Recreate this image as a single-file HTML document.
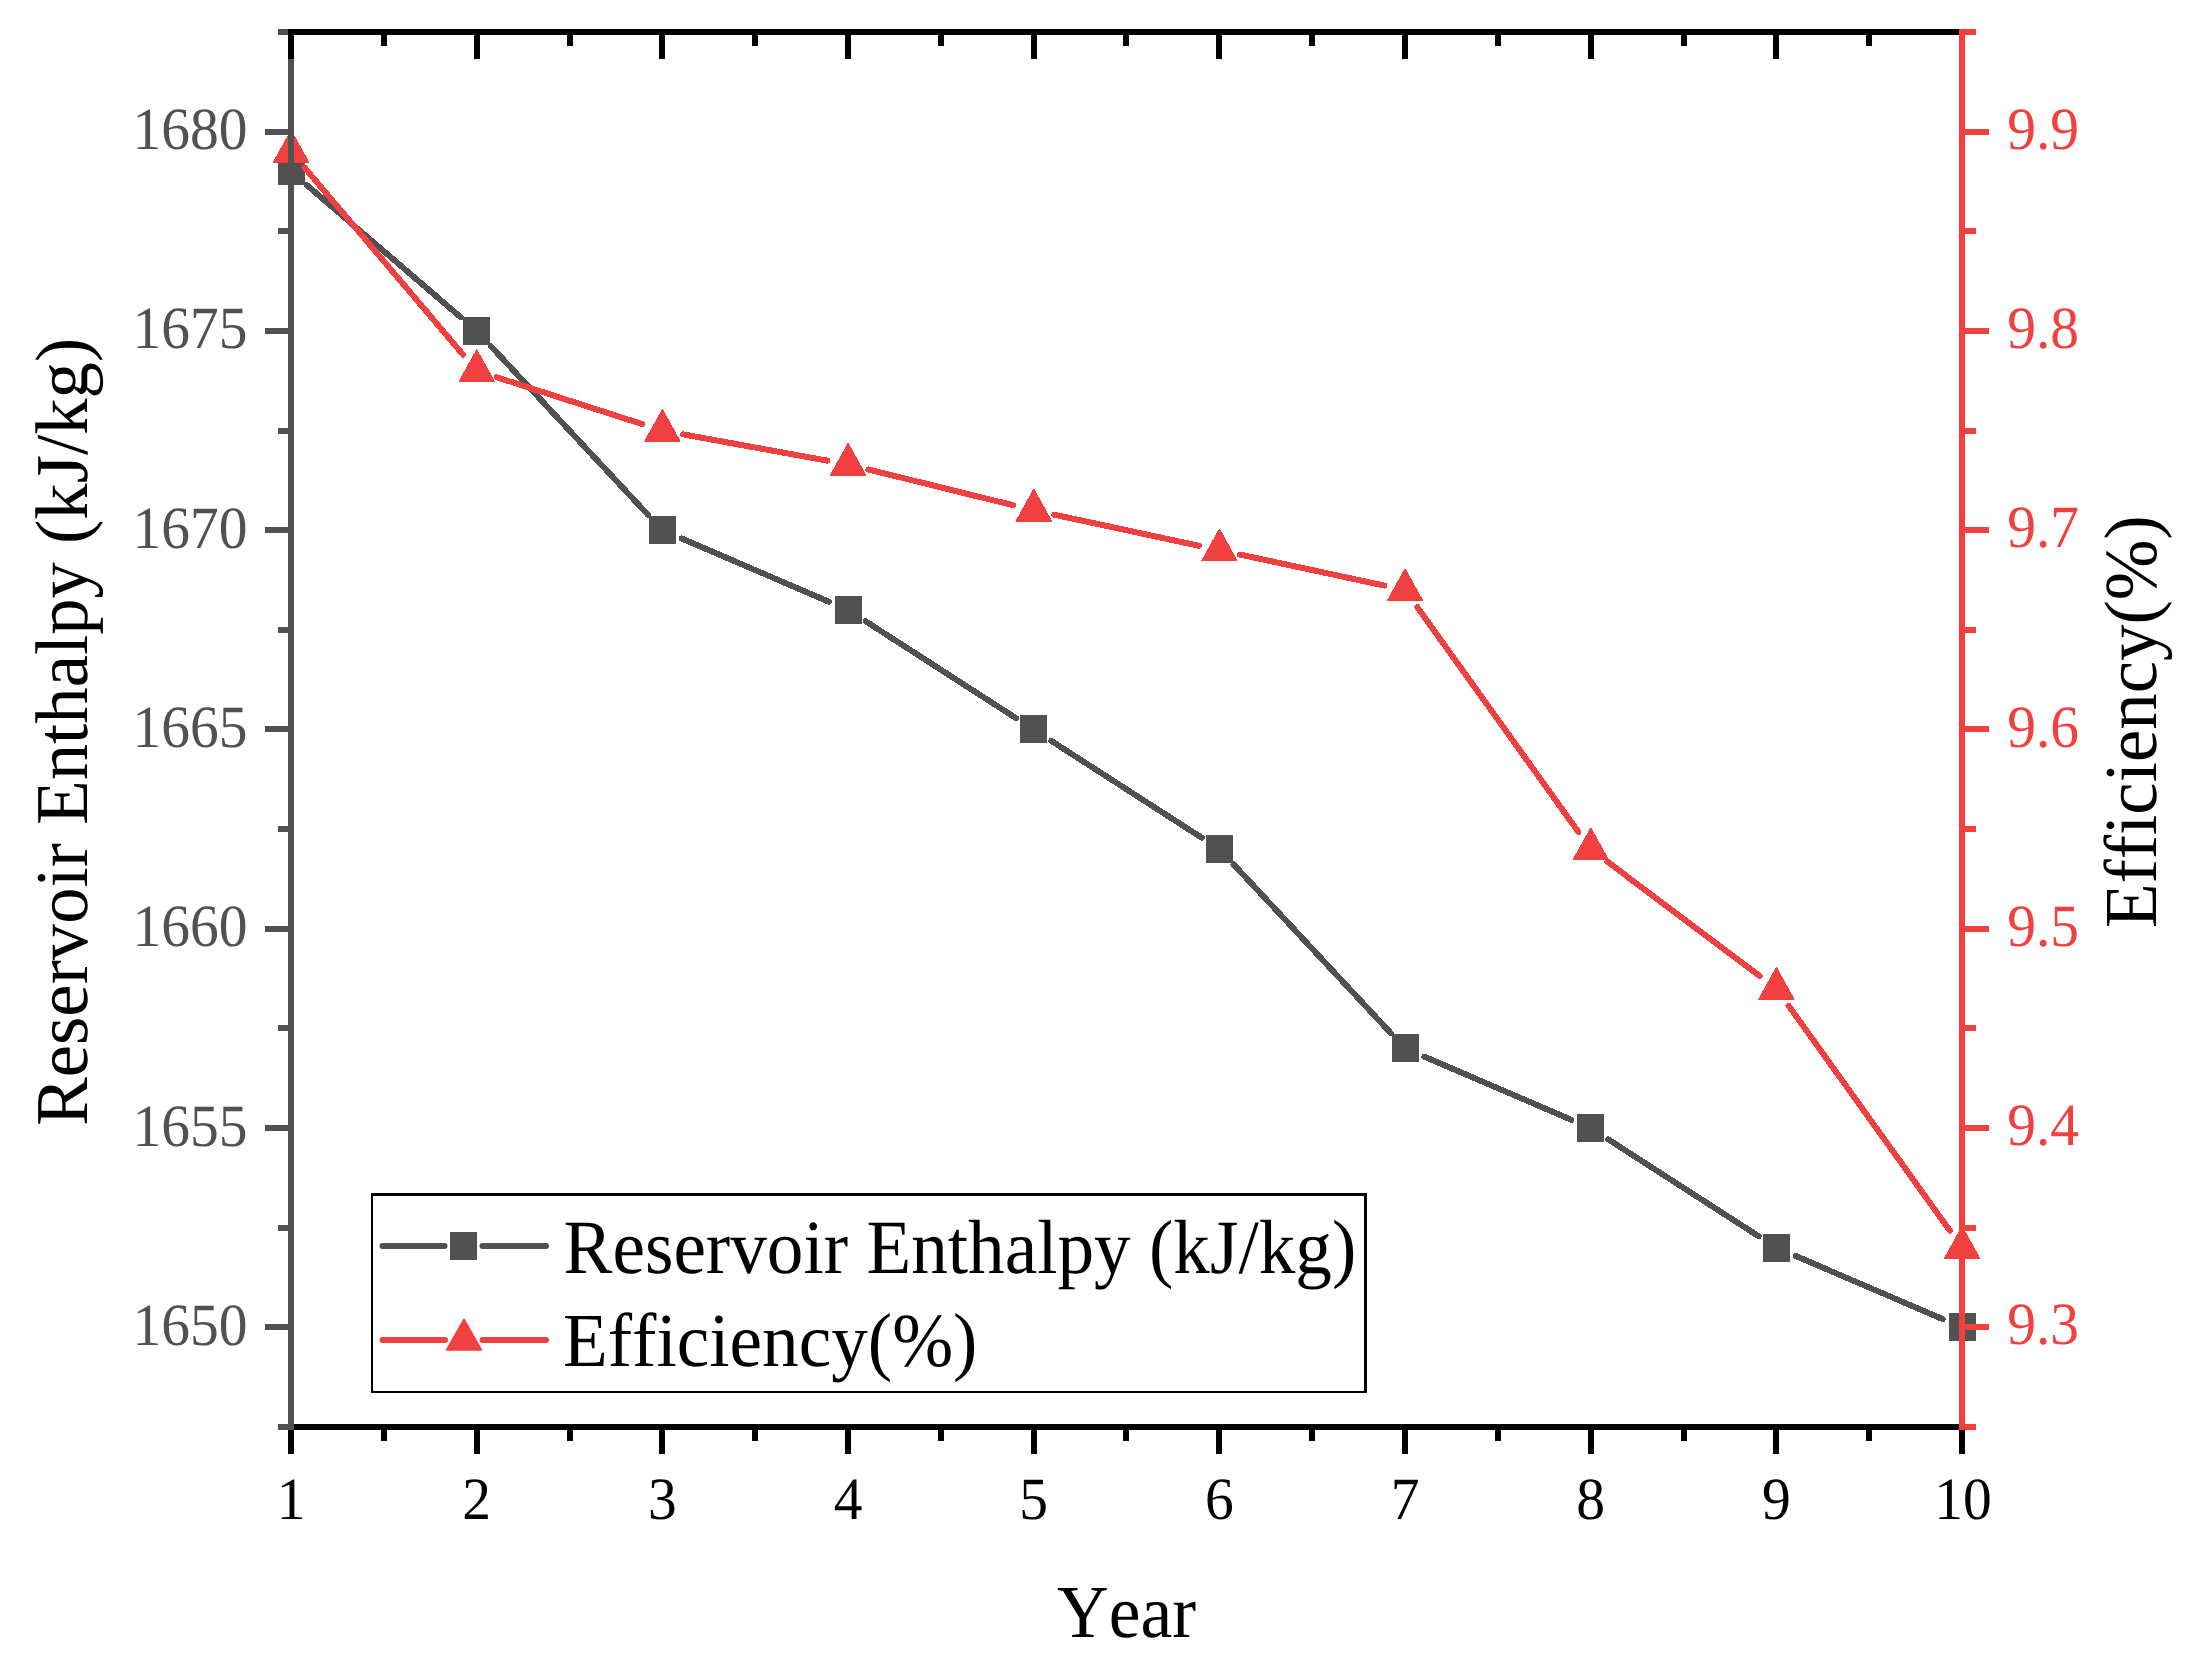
<!DOCTYPE html>
<html lang="en"><head><meta charset="utf-8"><title>Reservoir Enthalpy and Efficiency by Year</title>
<style>
html,body{margin:0;padding:0;background:#fff;}
body{width:2197px;height:1666px;overflow:hidden;}
svg{display:block;}
text{font-family:"Liberation Serif","Times New Roman",Times,serif;font-kerning:none;font-variant-ligatures:none;font-feature-settings:"kern" 0,"liga" 0,"clig" 0;text-rendering:geometricPrecision;}
.tk{font-size:57.5px;}
.ttl{font-size:72.9px;fill:#000;}
.lg{font-size:73.2px;fill:#000;}
</style></head><body>
<svg width="2197" height="1666" viewBox="0 0 2197 1666">
<rect x="0" y="0" width="2197" height="1666" fill="#fff"/>
<g id="series-enthalpy">
<g stroke="#515151" stroke-width="6" stroke-linecap="round" fill="none" shape-rendering="crispEdges"><line x1="306.93" y1="185.18" x2="460.73" y2="317.25"/><line x1="490.98" y1="346.29" x2="648.02" y2="514.85"/><line x1="681.63" y1="538.50" x2="828.70" y2="601.64"/><line x1="865.66" y1="621.30" x2="1016.01" y2="718.13"/><line x1="1051.32" y1="740.87" x2="1201.68" y2="837.70"/><line x1="1233.65" y1="864.44" x2="1390.69" y2="1032.99"/><line x1="1424.30" y1="1056.64" x2="1571.37" y2="1119.79"/><line x1="1608.32" y1="1139.44" x2="1758.68" y2="1236.27"/><line x1="1795.63" y1="1255.93" x2="1942.70" y2="1319.07"/></g>
<g fill="#515151" shape-rendering="crispEdges"><rect x="278" y="157" width="27" height="28"/><rect x="463" y="317" width="27" height="28"/><rect x="649" y="516" width="27" height="28"/><rect x="835" y="596" width="27" height="28"/><rect x="1020" y="715" width="27" height="28"/><rect x="1206" y="835" width="27" height="28"/><rect x="1392" y="1034" width="27" height="28"/><rect x="1577" y="1114" width="27" height="28"/><rect x="1763" y="1234" width="27" height="28"/><rect x="1949" y="1313" width="27" height="28"/></g>
</g>
<g id="series-efficiency">
<g stroke="#F04040" stroke-width="6" stroke-linecap="round" fill="none" shape-rendering="crispEdges"><line x1="304.57" y1="167.60" x2="463.09" y2="354.76"/><line x1="496.66" y1="377.22" x2="642.34" y2="424.13"/><line x1="682.99" y1="434.34" x2="827.34" y2="460.68"/><line x1="868.39" y1="469.48" x2="1013.28" y2="505.25"/><line x1="1054.20" y1="514.69" x2="1198.80" y2="545.74"/><line x1="1239.87" y1="554.55" x2="1384.47" y2="585.59"/><line x1="1417.23" y1="607.07" x2="1578.43" y2="832.00"/><line x1="1607.46" y1="861.69" x2="1759.54" y2="975.96"/><line x1="1788.57" y1="1005.64" x2="1949.77" y2="1230.57"/></g>
<g fill="#F04040" stroke="#F04040" stroke-width="1.5" stroke-linejoin="round" shape-rendering="crispEdges"><polygon points="291.10,130.92 308.45,162.17 273.75,162.17"/><polygon points="476.77,350.14 494.12,381.39 459.42,381.39"/><polygon points="662.43,409.92 679.78,441.17 645.08,441.17"/><polygon points="848.10,443.80 865.45,475.05 830.75,475.05"/><polygon points="1033.77,489.64 1051.12,520.89 1016.42,520.89"/><polygon points="1219.43,529.49 1236.78,560.74 1202.08,560.74"/><polygon points="1405.10,569.35 1422.45,600.60 1387.75,600.60"/><polygon points="1590.77,828.42 1608.12,859.67 1573.42,859.67"/><polygon points="1776.43,967.92 1793.78,999.17 1759.08,999.17"/><polygon points="1962.10,1226.99 1979.45,1258.24 1944.75,1258.24"/></g>
</g>
<g id="axes" shape-rendering="crispEdges">
<g fill="#000"><rect x="288" y="1424" width="1677" height="6"/><rect x="288" y="1430" width="6" height="24"/><rect x="381" y="1430" width="6" height="11"/><rect x="474" y="1430" width="6" height="24"/><rect x="567" y="1430" width="6" height="11"/><rect x="659" y="1430" width="6" height="24"/><rect x="752" y="1430" width="6" height="11"/><rect x="845" y="1430" width="6" height="24"/><rect x="938" y="1430" width="6" height="11"/><rect x="1031" y="1430" width="6" height="24"/><rect x="1123" y="1430" width="6" height="11"/><rect x="1216" y="1430" width="6" height="24"/><rect x="1309" y="1430" width="6" height="11"/><rect x="1402" y="1430" width="6" height="24"/><rect x="1495" y="1430" width="6" height="11"/><rect x="1588" y="1430" width="6" height="24"/><rect x="1681" y="1430" width="6" height="11"/><rect x="1773" y="1430" width="6" height="24"/><rect x="1866" y="1430" width="6" height="11"/><rect x="1959" y="1430" width="6" height="24"/></g>
<g fill="#515151"><rect x="288" y="29" width="6" height="1401"/><rect x="265" y="1324" width="23" height="6"/><rect x="265" y="1125" width="23" height="6"/><rect x="265" y="926" width="23" height="6"/><rect x="265" y="726" width="23" height="6"/><rect x="265" y="527" width="23" height="6"/><rect x="265" y="328" width="23" height="6"/><rect x="265" y="129" width="23" height="6"/><rect x="278" y="1424" width="10" height="6"/><rect x="278" y="1225" width="10" height="6"/><rect x="278" y="1025" width="10" height="6"/><rect x="278" y="826" width="10" height="6"/><rect x="278" y="627" width="10" height="6"/><rect x="278" y="428" width="10" height="6"/><rect x="278" y="228" width="10" height="6"/><rect x="278" y="29" width="10" height="6"/></g>
<g fill="#000"><rect x="288" y="29" width="1677" height="6"/><rect x="288" y="35" width="6" height="24"/><rect x="381" y="35" width="6" height="11"/><rect x="474" y="35" width="6" height="24"/><rect x="567" y="35" width="6" height="11"/><rect x="659" y="35" width="6" height="24"/><rect x="752" y="35" width="6" height="11"/><rect x="845" y="35" width="6" height="24"/><rect x="938" y="35" width="6" height="11"/><rect x="1031" y="35" width="6" height="24"/><rect x="1123" y="35" width="6" height="11"/><rect x="1216" y="35" width="6" height="24"/><rect x="1309" y="35" width="6" height="11"/><rect x="1402" y="35" width="6" height="24"/><rect x="1495" y="35" width="6" height="11"/><rect x="1588" y="35" width="6" height="24"/><rect x="1681" y="35" width="6" height="11"/><rect x="1773" y="35" width="6" height="24"/><rect x="1866" y="35" width="6" height="11"/><rect x="1959" y="35" width="6" height="24"/></g>
<g fill="#F04040"><rect x="1959" y="29" width="6" height="1401"/><rect x="1965" y="1324" width="24" height="6"/><rect x="1965" y="1125" width="24" height="6"/><rect x="1965" y="926" width="24" height="6"/><rect x="1965" y="726" width="24" height="6"/><rect x="1965" y="527" width="24" height="6"/><rect x="1965" y="328" width="24" height="6"/><rect x="1965" y="129" width="24" height="6"/><rect x="1965" y="1424" width="11" height="6"/><rect x="1965" y="1225" width="11" height="6"/><rect x="1965" y="1025" width="11" height="6"/><rect x="1965" y="826" width="11" height="6"/><rect x="1965" y="627" width="11" height="6"/><rect x="1965" y="428" width="11" height="6"/><rect x="1965" y="228" width="11" height="6"/><rect x="1965" y="29" width="11" height="6"/></g>
</g>
<g class="tk" fill="#515151" text-anchor="end">
<text transform="translate(247.5 1344.9) scale(1 1.043)">1650</text>
<text transform="translate(247.5 1145.6) scale(1 1.043)">1655</text>
<text transform="translate(247.5 946.3) scale(1 1.043)">1660</text>
<text transform="translate(247.5 747.0) scale(1 1.043)">1665</text>
<text transform="translate(247.5 547.7) scale(1 1.043)">1670</text>
<text transform="translate(247.5 348.4) scale(1 1.043)">1675</text>
<text transform="translate(247.5 149.1) scale(1 1.043)">1680</text>
</g>
<g class="tk" fill="#F04040" text-anchor="start">
<text transform="translate(2007.2 1344.4) scale(1 1.043)">9.3</text>
<text transform="translate(2007.2 1145.1) scale(1 1.043)">9.4</text>
<text transform="translate(2007.2 945.8) scale(1 1.043)">9.5</text>
<text transform="translate(2007.2 746.5) scale(1 1.043)">9.6</text>
<text transform="translate(2007.2 547.2) scale(1 1.043)">9.7</text>
<text transform="translate(2007.2 347.9) scale(1 1.043)">9.8</text>
<text transform="translate(2007.2 148.6) scale(1 1.043)">9.9</text>
</g>
<g class="tk" fill="#000" text-anchor="middle">
<text transform="translate(291.0 1519) scale(1 1.043)">1</text>
<text transform="translate(476.7 1519) scale(1 1.043)">2</text>
<text transform="translate(662.3 1519) scale(1 1.043)">3</text>
<text transform="translate(848.0 1519) scale(1 1.043)">4</text>
<text transform="translate(1033.7 1519) scale(1 1.043)">5</text>
<text transform="translate(1219.3 1519) scale(1 1.043)">6</text>
<text transform="translate(1405.0 1519) scale(1 1.043)">7</text>
<text transform="translate(1590.7 1519) scale(1 1.043)">8</text>
<text transform="translate(1776.3 1519) scale(1 1.043)">9</text>
<text transform="translate(1963.0 1519) scale(1 1.043)">10</text>
</g>
<text class="ttl" style="font-size:71.5px" text-anchor="middle" transform="translate(1126.5 1636.8) scale(1 1.047)">Year</text>
<text class="ttl" text-anchor="middle" style="font-size:72.75px" transform="translate(87 731.8) rotate(-90) scale(1 1.025)">Reservoir Enthalpy (kJ/kg)</text>
<text class="ttl" text-anchor="middle" transform="translate(2155.5 721.6) rotate(-90) scale(1 1.026)">Efficiency(%)</text>
<g id="legend">
<g fill="#000" shape-rendering="crispEdges"><rect x="371" y="1193" width="996" height="3"/><rect x="371" y="1391" width="996" height="2"/><rect x="371" y="1193" width="2" height="200"/><rect x="1364" y="1193" width="3" height="200"/></g>
<g stroke="#515151" stroke-width="6" stroke-linecap="round"><line x1="382.5" y1="1246" x2="444.5" y2="1246"/><line x1="482.5" y1="1246" x2="546" y2="1246"/></g>
<rect x="450" y="1232" width="27" height="28" fill="#515151" shape-rendering="crispEdges"/>
<g stroke="#F04040" stroke-width="6" stroke-linecap="round"><line x1="382.5" y1="1340" x2="445" y2="1340"/><line x1="482.5" y1="1340" x2="546" y2="1340"/></g>
<polygon points="464,1319 481.4,1349.9 446.6,1349.9" fill="#F04040" stroke="#F04040" stroke-width="1.5" stroke-linejoin="round"/>
<text class="lg" transform="translate(563.6 1272.6) scale(1 1.048)">Reservoir Enthalpy (kJ/kg)</text>
<text class="lg" transform="translate(563 1365.9) scale(1 1.045)">Efficiency(%)</text>
</g>
</svg></body></html>
